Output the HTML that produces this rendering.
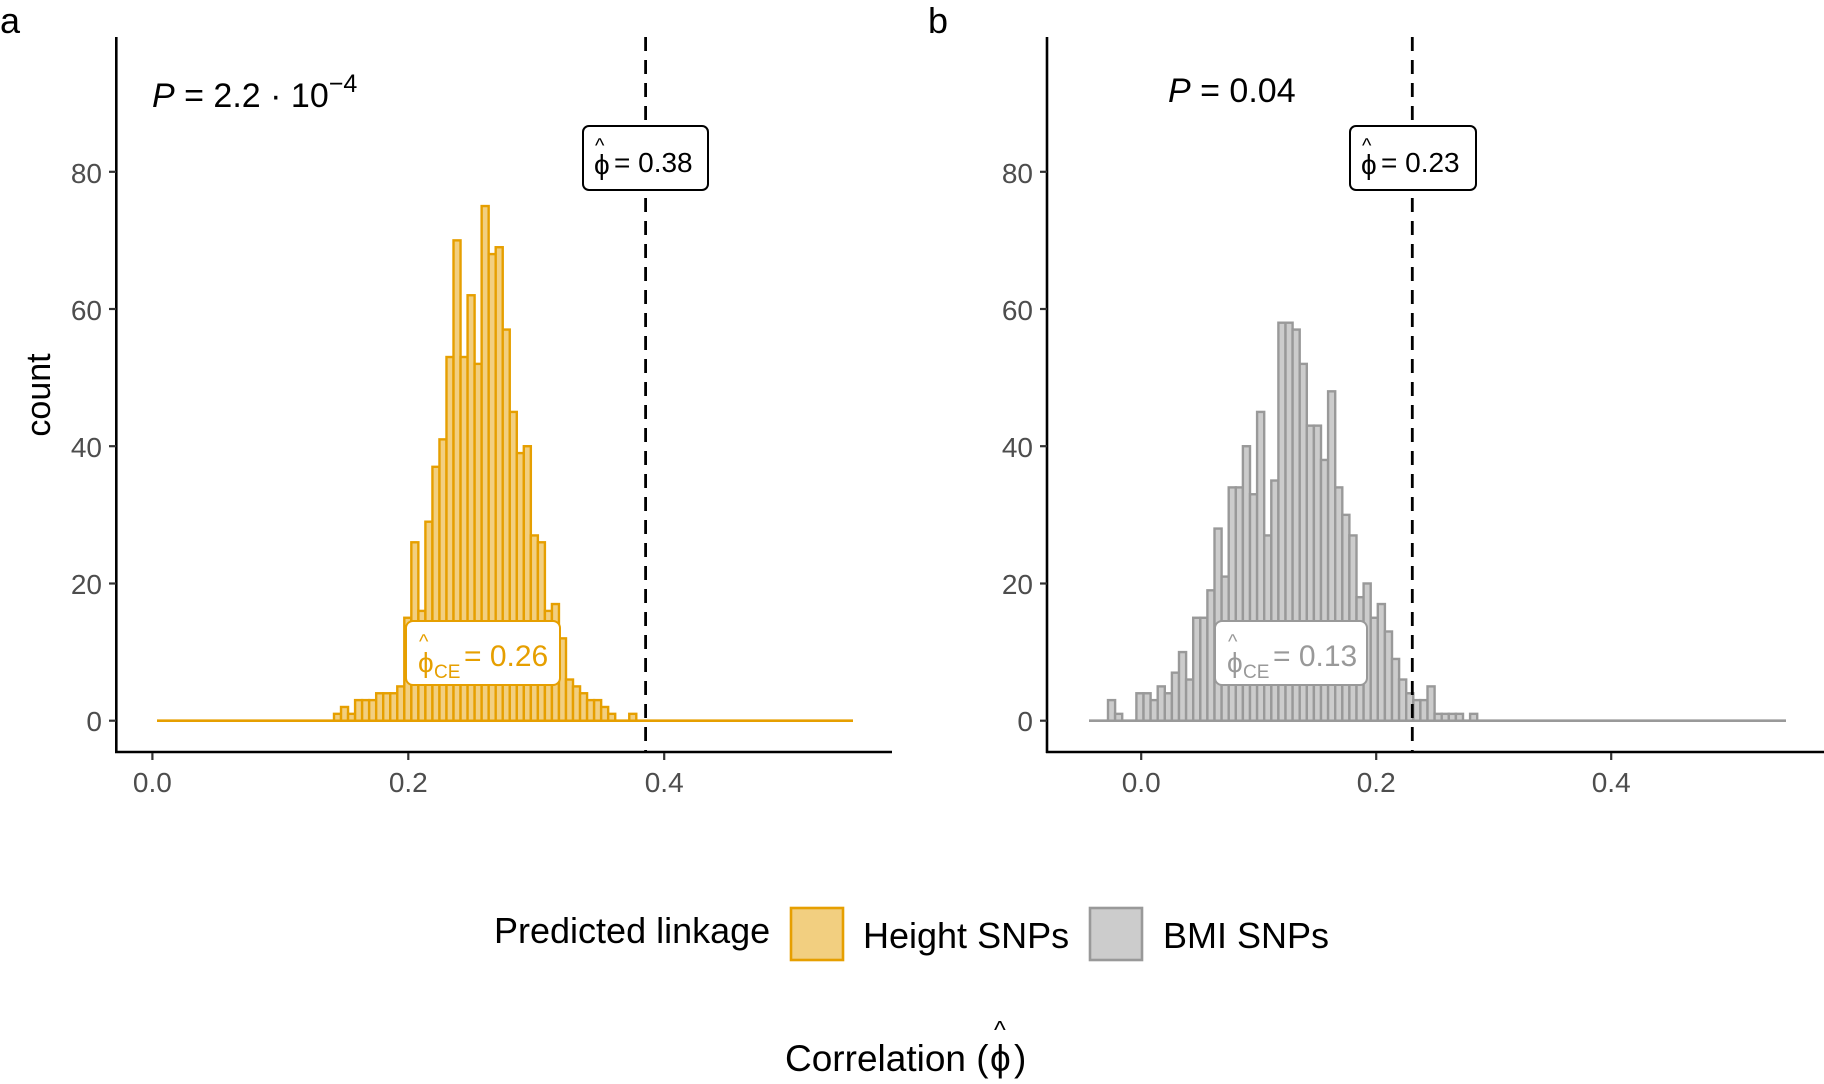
<!DOCTYPE html>
<html><head><meta charset="utf-8"><style>
html,body{margin:0;padding:0;background:#fff;}
svg{display:block;font-family:"Liberation Sans",sans-serif;}
</style></head><body>
<svg id="s" width="1824" height="1084" viewBox="0 0 1824 1084" xmlns="http://www.w3.org/2000/svg">
<g id="bars"></g>
<g stroke="#000" stroke-width="2.6" fill="none">
<line x1="116.3" y1="37" x2="116.3" y2="753"/>
<line x1="115" y1="752" x2="892" y2="752"/>
<line x1="1047" y1="37" x2="1047" y2="753"/>
<line x1="1046" y1="752" x2="1824" y2="752"/>
</g>
<g stroke="#333" stroke-width="2.2">
<line x1="109" y1="720.7" x2="116" y2="720.7"/><line x1="109" y1="583.5" x2="116" y2="583.5"/><line x1="109" y1="446.2" x2="116" y2="446.2"/><line x1="109" y1="309" x2="116" y2="309"/><line x1="109" y1="171.8" x2="116" y2="171.8"/>
<line x1="152.4" y1="753" x2="152.4" y2="760"/><line x1="408.3" y1="753" x2="408.3" y2="760"/><line x1="664.2" y1="753" x2="664.2" y2="760"/>
<line x1="1040" y1="720.7" x2="1047" y2="720.7"/><line x1="1040" y1="583.5" x2="1047" y2="583.5"/><line x1="1040" y1="446.2" x2="1047" y2="446.2"/><line x1="1040" y1="309" x2="1047" y2="309"/><line x1="1040" y1="171.8" x2="1047" y2="171.8"/>
<line x1="1141.2" y1="753" x2="1141.2" y2="760"/><line x1="1376.2" y1="753" x2="1376.2" y2="760"/><line x1="1611.2" y1="753" x2="1611.2" y2="760"/>
</g>
<g fill="#4d4d4d" font-size="28" text-anchor="end">
<text x="102" y="731">0</text><text x="102" y="594">20</text><text x="102" y="457">40</text><text x="102" y="320">60</text><text x="102" y="183">80</text>
<text x="1033" y="731">0</text><text x="1033" y="594">20</text><text x="1033" y="457">40</text><text x="1033" y="320">60</text><text x="1033" y="183">80</text>
</g>
<g fill="#4d4d4d" font-size="28" text-anchor="middle">
<text x="152.4" y="792">0.0</text><text x="408.3" y="792">0.2</text><text x="664.2" y="792">0.4</text>
<text x="1141.2" y="792">0.0</text><text x="1376.2" y="792">0.2</text><text x="1611.2" y="792">0.4</text>
</g>
<line x1="645.6" y1="37" x2="645.6" y2="752" stroke="#000" stroke-width="2.8" stroke-dasharray="14,9"/>
<line x1="1412.3" y1="37" x2="1412.3" y2="752" stroke="#000" stroke-width="2.8" stroke-dasharray="14,9"/>
<text x="0" y="33" font-size="36">a</text>
<text x="928" y="33" font-size="36">b</text>
<text transform="translate(50,395) rotate(-90)" font-size="34" text-anchor="middle">count</text>
<text x="152" y="107" font-size="34"><tspan font-style="italic">P</tspan> = 2.2 · 10<tspan dy="-15" font-size="25">−4</tspan></text>
<text x="1168" y="102" font-size="34"><tspan font-style="italic">P</tspan> = 0.04</text>
<rect x="583" y="126" width="125" height="64" rx="6" fill="#fff" stroke="#000" stroke-width="2"/>
<text x="594" y="174" font-size="28">ϕ</text><text x="595" y="152" font-size="20">^</text>
<text x="614" y="172" font-size="28">= 0.38</text>
<rect x="1350" y="126" width="126" height="64" rx="6" fill="#fff" stroke="#000" stroke-width="2"/>
<text x="1361" y="174" font-size="28">ϕ</text><text x="1362" y="152" font-size="20">^</text>
<text x="1381" y="172" font-size="28">= 0.23</text>
<rect x="406" y="621" width="154" height="64" rx="7" fill="#fff" stroke="#E69F00" stroke-width="2"/>
<text x="418" y="672" font-size="28" fill="#E69F00">ϕ</text><text x="419" y="648" font-size="20" fill="#E69F00">^</text>
<text x="434" y="678" font-size="19" fill="#E69F00">CE</text>
<text x="464" y="666" font-size="30" fill="#E69F00">= 0.26</text>
<rect x="1215" y="621" width="152" height="64" rx="7" fill="#fff" stroke="#999" stroke-width="2"/>
<text x="1227" y="672" font-size="28" fill="#999">ϕ</text><text x="1228" y="648" font-size="20" fill="#999">^</text>
<text x="1243" y="678" font-size="19" fill="#999">CE</text>
<text x="1273" y="666" font-size="30" fill="#999">= 0.13</text>
<text x="494" y="943" font-size="36">Predicted linkage</text>
<rect x="791" y="908" width="52" height="52" fill="#F2CF80" stroke="#E69F00" stroke-width="2.6"/>
<text x="863" y="948" font-size="36">Height SNPs</text>
<rect x="1090" y="908" width="52" height="52" fill="#CCCCCC" stroke="#999" stroke-width="2.6"/>
<text x="1163" y="948" font-size="36">BMI SNPs</text>
<text x="785" y="1071" font-size="37">Correlation (</text>
<text x="990" y="1071" font-size="37">ϕ</text><text x="994" y="1038" font-size="25">^</text>
<text x="1014" y="1071" font-size="37">)</text>
</svg>
<script>
(function(){
var g=document.getElementById('bars'),NS='http://www.w3.org/2000/svg';
function add(tag,a){var e=document.createElementNS(NS,tag);for(var k in a)e.setAttribute(k,a[k]);g.appendChild(e);}
var y0=720.7,u=6.862;
add('line',{x1:157,y1:y0,x2:853,y2:y0,stroke:'#E69F00','stroke-width':2.6});
var ca=[1,2,1,3,3,3,4,4,4,5,15,26,16,29,37,41,53,70,53,62,52,75,68,69,57,45,39,40,27,26,16,17,12,6,5,4,3,3,2,1,0,0,1];
var w=7.03,x0=157+25*6.96+3;
ca.forEach(function(c,i){if(c>0)add('rect',{x:x0+i*w,y:y0-c*u,width:w,height:c*u,fill:'#F2CF80',stroke:'#E69F00','stroke-width':2.4});});
add('line',{x1:1089,y1:y0,x2:1786,y2:y0,stroke:'#999','stroke-width':2.6});
var cb=[3,1,0,0,4,4,3,5,4,7,10,6,15,15,19,28,21,34,34,40,33,45,27,35,58,58,57,52,43,43,38,48,34,30,27,18,20,15,17,13,9,6,4,3,3,5,1,1,1,1,0,1];
var wb=7.1,xb=1108;
cb.forEach(function(c,i){if(c>0)add('rect',{x:xb+i*wb,y:y0-c*u,width:wb,height:c*u,fill:'#CCCCCC',stroke:'#999','stroke-width':2.4});});
})();
</script>
</body></html>
